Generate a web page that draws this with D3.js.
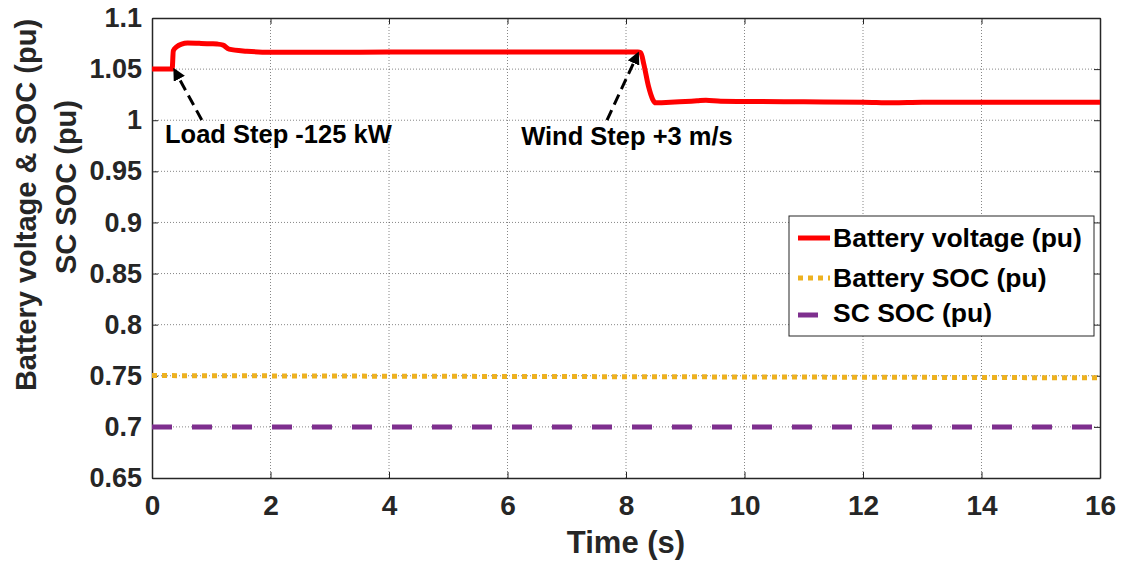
<!DOCTYPE html>
<html><head><meta charset="utf-8">
<script src="https://cdn.jsdelivr.net/npm/d3@7"></script>
<style>
body{margin:0;background:#fff;}
text{font-family:"Liberation Sans",Arial,sans-serif;font-weight:bold;fill:#262626;}
</style></head>
<body><svg id="c" width="1125" height="567"></svg>
<script>
const xTicks=[0,2,4,6,8,10,12,14,16];
const yTicks=[0.65,0.7,0.75,0.8,0.85,0.9,0.95,1,1.05,1.1];
const yTickLabels=["0.65","0.7","0.75","0.8","0.85","0.9","0.95","1","1.05","1.1"];
const battVoltT=[0,0.34,0.36,0.42,0.5,0.6,0.8,1.0,1.1,1.2,1.3,1.6,2.0,3,4,5,6,7,8.0,8.2,8.25,8.3,8.38,8.45,8.5,8.6,8.9,9.2,9.35,9.6,10,11,12,12.5,13,14,15,16];
const battVoltV=[1.05,1.05,1.068,1.072,1.0745,1.0755,1.0752,1.0748,1.0745,1.0735,1.0695,1.0675,1.0665,1.0665,1.0667,1.0667,1.0667,1.0667,1.0667,1.0667,1.066,1.055,1.033,1.0205,1.017,1.0172,1.018,1.019,1.0195,1.0185,1.0183,1.018,1.0177,1.017,1.0175,1.0175,1.0175,1.0175];
const battSocT=[0,4,8,12,16];
const battSocV=[0.7502,0.7496,0.7491,0.7486,0.748];
const scSocT=[0,16];
const scSocV=[0.7,0.7];
const seriesNames=["Battery voltage (pu)","Battery SOC (pu)","SC SOC (pu)"];
const colors=["#ff0000","#edb120","#7e2f8e"];
const annotations=[{label:"Load Step -125 kW",tipT:0.39,tipV:1.0481,tailT:0.84,tailV:1.0002,textT:0.22,textV:0.9777},
                   {label:"Wind Step +3 m/s",tipT:8.19,tipV:1.0638,tailT:7.68,tailV:1.0002,textT:6.23,textV:0.9758}];

const svg=d3.select("#c");
const L=152,R=1100,T=18,B=478;
const x=d3.scaleLinear().domain([0,16]).range([L,R]);
const y=d3.scaleLinear().domain([0.65,1.1]).range([B,T]);

// grid
const g=svg.append("g");
g.selectAll(".vg").data(xTicks.slice(1,-1)).enter().append("line")
 .attr("x1",d=>x(d)).attr("x2",d=>x(d)).attr("y1",T).attr("y2",B)
 .attr("stroke","#262626").attr("stroke-width",1).attr("stroke-dasharray","1,2").attr("opacity",0.55);
g.selectAll(".hg").data(yTicks.slice(1,-1)).enter().append("line")
 .attr("y1",d=>y(d)).attr("y2",d=>y(d)).attr("x1",L).attr("x2",R)
 .attr("stroke","#262626").attr("stroke-width",1).attr("stroke-dasharray","1,2").attr("opacity",0.55);

// axes
const xAxis=d3.axisBottom(x).tickValues(xTicks).tickSize(-6).tickSizeOuter(0).tickPadding(17);
const xa=svg.append("g").attr("transform",`translate(0,${B})`).call(xAxis);
xa.selectAll("text").attr("font-size",28).attr("fill","#262626");
const xAxisTop=d3.axisTop(x).tickValues(xTicks).tickSize(-6).tickSizeOuter(0).tickFormat("");
svg.append("g").attr("transform",`translate(0,${T})`).call(xAxisTop);
const yAxis=d3.axisLeft(y).tickValues(yTicks).tickSize(-6).tickSizeOuter(0).tickPadding(10).tickFormat((d,i)=>yTickLabels[i]);
const ya=svg.append("g").attr("transform",`translate(${L},0)`).call(yAxis);
ya.selectAll("text").attr("font-size",27).attr("fill","#262626");
const yAxisR=d3.axisRight(y).tickValues(yTicks).tickSize(-6).tickSizeOuter(0).tickFormat("");
svg.append("g").attr("transform",`translate(${R},0)`).call(yAxisR);
svg.selectAll(".domain").attr("stroke","#262626").attr("stroke-width",1.5);
svg.selectAll(".tick line").attr("stroke","#262626");

// series
const line=d3.line().x(d=>x(d[0])).y(d=>y(d[1]));
svg.append("path").datum(scSocT.map((t,i)=>[t,scSocV[i]])).attr("d",line)
 .attr("fill","none").attr("stroke",colors[2]).attr("stroke-width",5).attr("stroke-dasharray","20,20");
svg.append("path").datum(battSocT.map((t,i)=>[t,battSocV[i]])).attr("d",line)
 .attr("fill","none").attr("stroke",colors[1]).attr("stroke-width",5).attr("stroke-dasharray","5,5");
svg.append("path").datum(battVoltT.map((t,i)=>[t,battVoltV[i]])).attr("d",d3.line().curve(d3.curveMonotoneX).x(d=>x(d[0])).y(d=>y(d[1])))
 .attr("fill","none").attr("stroke",colors[0]).attr("stroke-width",5).attr("stroke-linejoin","round");

// annotations
const defs=svg.append("defs");
defs.append("marker").attr("id","ah").attr("viewBox","0 0 10 10").attr("refX",7).attr("refY",5)
 .attr("markerWidth",4.2).attr("markerHeight",4.2).attr("orient","auto")
 .append("path").attr("d","M0,0 L10,5 L0,10 z").attr("fill","#000");
annotations.forEach(a=>{
  svg.append("line").attr("x1",x(a.tailT)).attr("y1",y(a.tailV)).attr("x2",x(a.tipT)).attr("y2",y(a.tipV))
    .attr("stroke","#000").attr("stroke-width",3).attr("stroke-dasharray","11,6").attr("marker-end","url(#ah)");
  svg.append("text").attr("x",x(a.textT)).attr("y",y(a.textV)).attr("font-size",25.5).style("fill","#000").text(a.label);
});

// legend
const lg=svg.append("g").attr("transform","translate(789,216)");
lg.append("rect").attr("width",305).attr("height",120).attr("fill","#fff").attr("stroke","#262626").attr("stroke-width",1);
const dashes=[null,"5,5","20,20"];
const lx2=[41,41,30];
seriesNames.forEach((n,i)=>{
  const yy=[22,62,99][i];
  const by=[31,71,106][i];
  lg.append("line").attr("x1",9).attr("x2",lx2[i]).attr("y1",yy).attr("y2",yy).attr("stroke",colors[i]).attr("stroke-width",5)
    .attr("stroke-dasharray",dashes[i]);
  lg.append("text").attr("x",44).attr("y",by).attr("font-size",26.5).style("fill","#000").text(n);
});

// axis titles
svg.append("text").attr("x",x(8)).attr("y",553).attr("text-anchor","middle").attr("font-size",31).text("Time (s)");
svg.append("text").attr("transform","translate(36,205) rotate(-90)").attr("text-anchor","middle").attr("font-size",29).text("Battery voltage & SOC (pu)");
svg.append("text").attr("transform","translate(76,187) rotate(-90)").attr("text-anchor","middle").attr("font-size",29).text("SC SOC (pu)");
</script></body></html>
